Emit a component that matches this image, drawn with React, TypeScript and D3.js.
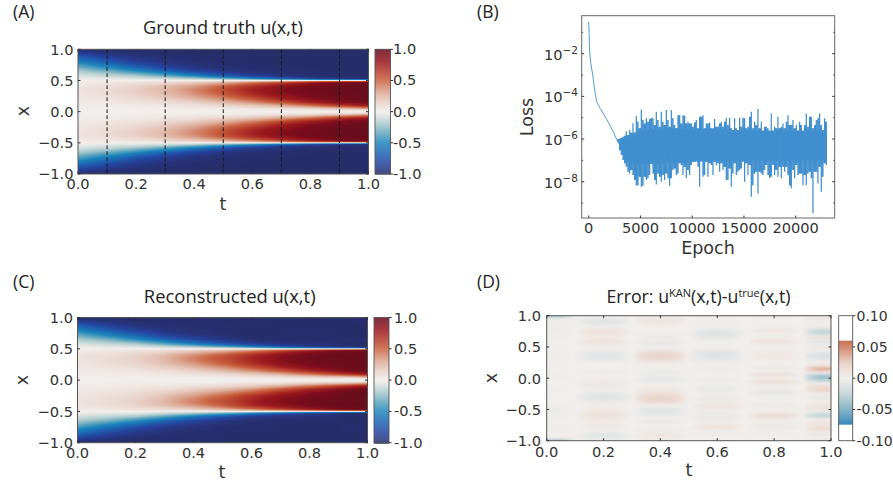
import React from "react";
import * as d3 from "d3";

// ---------- data ----------
const truthTimes = [0, 0.1, 0.2, 0.3, 0.4, 0.5, 0.6, 0.7, 0.8, 0.9, 1.0];
const truthXs = [1, 0.95, 0.9, 0.85, 0.8, 0.75, 0.7, 0.65, 0.6, 0.575, 0.55, 0.525, 0.5, 0.475, 0.45, 0.4, 0.35, 0.3, 0.25, 0.2, 0.15, 0.1, 0.05, 0.025, 0];
const truthRows = [
  [-1, -1, -1, -1, -1, -1, -1, -1, -1, -1, -1],
  [-0.89, -0.96, -0.98, -0.995, -1, -1, -1, -1, -1, -1, -1],
  [-0.77, -0.89, -0.955, -0.985, -0.995, -1, -1, -1, -1, -1, -1],
  [-0.64, -0.81, -0.915, -0.966, -0.99, -0.995, -1, -1, -1, -1, -1],
  [-0.52, -0.71, -0.86, -0.94, -0.975, -0.99, -1, -1, -1, -1, -1],
  [-0.4, -0.58, -0.77, -0.89, -0.957, -0.985, -0.995, -1, -1, -1, -1],
  [-0.29, -0.45, -0.64, -0.81, -0.91, -0.965, -0.985, -0.995, -1, -1, -1],
  [-0.19, -0.3, -0.47, -0.66, -0.82, -0.92, -0.97, -0.99, -0.995, -1, -1],
  [-0.11, -0.18, -0.29, -0.44, -0.63, -0.8, -0.91, -0.965, -0.985, -0.995, -1],
  [-0.077, -0.13, -0.2, -0.33, -0.5, -0.69, -0.84, -0.93, -0.97, -0.99, -0.995],
  [-0.047, -0.08, -0.13, -0.21, -0.33, -0.5, -0.69, -0.84, -0.93, -0.975, -0.99],
  [-0.022, -0.04, -0.06, -0.1, -0.16, -0.26, -0.41, -0.6, -0.77, -0.89, -0.955],
  [0, 0, 0, 0, 0, 0, 0, 0, 0, 0, 0],
  [0.018, 0.03, 0.05, 0.08, 0.13, 0.215, 0.34, 0.51, 0.7, 0.85, 0.94],
  [0.03, 0.05, 0.08, 0.134, 0.22, 0.345, 0.51, 0.7, 0.85, 0.94, 0.97],
  [0.05, 0.08, 0.136, 0.22, 0.345, 0.52, 0.71, 0.855, 0.94, 0.98, 0.99],
  [0.056, 0.09, 0.152, 0.245, 0.39, 0.566, 0.75, 0.885, 0.955, 0.985, 0.995],
  [0.053, 0.087, 0.144, 0.232, 0.37, 0.54, 0.73, 0.87, 0.945, 0.98, 0.99],
  [0.044, 0.072, 0.12, 0.195, 0.315, 0.475, 0.66, 0.82, 0.925, 0.97, 0.99],
  [0.032, 0.053, 0.087, 0.143, 0.234, 0.365, 0.53, 0.72, 0.87, 0.945, 0.98],
  [0.02, 0.033, 0.054, 0.09, 0.147, 0.24, 0.37, 0.55, 0.74, 0.88, 0.95],
  [0.0095, 0.016, 0.026, 0.043, 0.07, 0.115, 0.188, 0.3, 0.46, 0.65, 0.81],
  [0.0025, 0.004, 0.007, 0.011, 0.018, 0.03, 0.05, 0.083, 0.135, 0.22, 0.35],
  [0.0006, 0.001, 0.002, 0.003, 0.004, 0.007, 0.012, 0.02, 0.033, 0.054, 0.09],
  [0, 0, 0, 0, 0, 0, 0, 0, 0, 0, 0],
];

// Error, thousandths, peak of each training window (columns: windows around t=.05,.2,.4,.6,.8,.95)
const errorXs = d3.range(41).map((i) => +(1 - i * 0.05).toFixed(2));
const errorPeaks = [
  [-45, -2, 6, 2, 3, 6],
  [-4, -6, 8, 1, 1, 10],
  [-1, -12, 10, 3, 1, -4],
  [-2, -5, 3, 3, 1, 2],
  [-3, 6, 0, -3, 3, -8],
  [-3, 12, 1, -10, 10, -28],
  [-2, 8, 4, -12, -1, -20],
  [-1, 2, 6, -8, -3, 22],
  [0, 12, -6, -2, 14, -14],
  [1, 8, -7, 1, 5, -5],
  [1, 1, -2, 0, 1, 10],
  [1, -3, 8, -6, 2, 3],
  [2, -9, 20, -11, 6, -10],
  [2, -10, 23, -12, 7, -15],
  [2, -8, 18, -9, 5, -8],
  [1, -2, 4, -2, 0, 3],
  [1, 1, 0, 1, -2, 10],
  [1, -1, -2, 6, -5, 42],
  [0, -3, -5, -4, 3, 15],
  [-1, -2, -3, 1, 16, -35],
  [-1, 2, -6, 3, -2, -40],
  [-1, 4, -8, 4, 17, -20],
  [1, 8, 2, -2, 6, 10],
  [2, 4, 4, -5, 1, 18],
  [2, -2, 8, -7, -6, 20],
  [1, -8, 14, 6, -9, 3],
  [0, -12, 22, -3, 2, -8],
  [0, -8, 24, -8, 1, -4],
  [-1, -2, 10, 5, -3, 6],
  [-2, 2, -4, 12, -4, 10],
  [-4, 4, -9, 6, -2, 12],
  [-4, 10, -10, -4, 6, -12],
  [-2, 12, -6, -6, 20, -30],
  [-1, 8, 2, -5, 6, -4],
  [1, 3, 6, -3, -2, 12],
  [-1, 5, 2, 8, -3, 6],
  [-2, 4, -3, 12, -6, 18],
  [-1, 0, -4, -2, 2, 8],
  [1, -11, 10, -3, -4, -10],
  [2, -8, 5, 1, 1, 4],
  [-45, -2, 2, 2, 2, 5],
];
const errorTimes = [0, 0.05, 0.09, 0.1, 0.12, 0.15, 0.2, 0.25, 0.28, 0.3, 0.32, 0.35, 0.4, 0.45, 0.48, 0.5, 0.52, 0.55, 0.6, 0.65, 0.68, 0.7, 0.72, 0.75, 0.8, 0.85, 0.88, 0.9, 0.92, 0.95, 1.0];
const errorWindow = [0, 0, 0, 0, 1, 1, 1, 1, 1, 1, 2, 2, 2, 2, 2, 2, 3, 3, 3, 3, 3, 3, 4, 4, 4, 4, 4, 4, 5, 5, 5];
const errorEnvelope = [0.8, 0.9, 0.25, 0.05, 0.4, 0.9, 1, 0.9, 0.4, 0.05, 0.45, 0.9, 1, 0.9, 0.4, 0.05, 0.45, 0.9, 1, 0.9, 0.4, 0.05, 0.45, 0.9, 1, 0.9, 0.4, 0.05, 0.6, 1, 1];

const dashTimes = [0.1, 0.3, 0.5, 0.7, 0.9];
const heatXTicks = [0, 0.2, 0.4, 0.6, 0.8, 1.0];
const heatYTicks = [-1, -0.5, 0, 0.5, 1];
const errorCbTicks = [-0.1, -0.05, 0, 0.05, 0.1];

// Loss: clean decay, then the upper and lower edge of the noisy band (log10)
const decayEpochs = [0, 100, 200, 390, 580, 770, 1100, 1740, 2380, 2870];
const decayLog = [-0.5, -1.98, -2.45, -3.0, -3.7, -4.25, -4.56, -5.08, -5.66, -6.2];
const bandStart = 2830;
const bandStep = 161;
const bandHigh = [
  -6.0, -5.97, -5.94, -5.89, -5.84, -5.63, -5.81, -5.58, -5.7, -5.27, -5.69, -4.91, -5.19, -5.5, -4.61, -5.11, -5.27, -5.03, -5.19, -5.06, -5.0, -5.03, -5.34, -4.72, -5.11, -5.42, -4.72, -5.19, -5.34, -4.64, -5.11, -5.42, -4.64, -5.03, -5.34,
  -5.5, -4.88, -4.88, -5.27, -4.88, -4.91, -5.27, -5.19, -5.27, -5.27, -5.42, -5.22, -5.11, -5.5, -4.95, -4.95, -4.88, -5.5, -5.27, -5.27, -5.22, -5.5, -5.5, -5.06, -5.42, -5.42, -5.27, -5.19, -5.42, -5.19, -5.0, -5.34, -5.0, -5.5, -5.58, -5.03, -5.5, -5.58, -5.0, -5.42, -5.0, -5.03, -5.5, -5.42, -4.95, -4.72, -5.5, -5.19, -5.34, -4.59, -5.5,
  -5.19, -5.66, -5.42, -5.42, -5.5, -5.66, -4.8, -5.66, -5.42, -5.5, -4.95, -5.5, -5.42, -5.27, -5.5, -5.19, -4.88, -5.34, -5.34, -5.11, -5.5, -5.34, -5.66, -5.19, -5.34, -5.66, -5.34, -4.8, -5.42, -4.95, -4.95, -5.5, -5.34, -5.11, -5.03, -4.8, -5.34, -5.58, -5.03, -5.19,
];
const bandLow = [
  -6.13, -6.52, -6.75, -6.98, -7.14, -7.3, -7.53, -7.61, -7.45, -7.69, -7.92, -8.19, -8.16, -7.77, -8.23, -8.19, -7.77, -7.92, -7.84, -7.69, -7.06, -7.61, -7.92, -8.13, -7.61, -7.77, -8.0, -7.69, -7.92, -7.61, -7.84, -8.19, -7.84, -7.45, -7.38,
  -7.69, -7.61, -7.14, -7.22, -7.69, -7.3, -7.84, -7.45, -7.69, -7.22, -7.06, -7.06, -6.98, -7.3, -8.23, -6.98, -7.77, -7.69, -7.06, -7.77, -7.14, -7.22, -7.69, -7.06, -7.22, -7.14, -7.53, -7.14, -7.45, -7.3, -7.92, -7.92, -7.38, -8.23, -7.61, -7.14, -7.69, -7.53, -7.45, -7.38, -7.06, -8.0, -7.14, -7.69, -7.22, -8.7, -8.16, -7.61, -7.53, -8.55, -7.53,
  -7.61, -7.69, -7.45, -7.22, -7.69, -7.84, -7.77, -7.22, -7.69, -7.45, -7.77, -7.3, -7.84, -7.3, -7.53, -7.3, -7.69, -8.16, -8.31, -7.45, -7.84, -7.22, -7.69, -7.61, -7.61, -8.16, -7.69, -8.16, -7.61, -7.53, -7.84, -9.48, -7.53, -7.53, -8.08, -7.3, -8.47, -7.77, -7.14, -7.22,
];
// The solid middle of the noisy band (log10)
const coreEpochs = [2870, 3400, 4000, 5000, 8000, 14000, 23000];
const coreHigh = [-6.05, -5.95, -5.85, -5.6, -5.5, -5.6, -5.6];
const coreLow = [-6.2, -6.85, -7.15, -7.2, -7.1, -7.0, -7.0];

const lossXTicks = [0, 5000, 10000, 15000, 20000];
const lossMajorExp = [-2, -4, -6, -8];
const lossMinorExp = [-1, -3, -5, -7, -9];

// Colour stops
const balanceDomain = [-1, -0.85, -0.7, -0.5, -0.35, -0.2, -0.05, 0, 0.15, 0.3, 0.5, 0.65, 0.8, 1];
const balanceColors = ["#252d6b", "#25409a", "#1f5fb0", "#1e86bd", "#5fa5bd", "#a9c9cd", "#e4e6e5", "#f1eeec", "#e8cfc5", "#dca893", "#c8603f", "#b53a2a", "#98161f", "#660a1c"];
const errorDomain = [-0.075, -0.05, -0.025, 0, 0.025, 0.05, 0.06];
const errorColors = ["#2a7fb5", "#7fb0c4", "#c5d5d8", "#f1eeec", "#e8d0c4", "#cf8265", "#c6694a"];

// ---------- helpers ----------
const DJ = "'DejaVu Sans', sans-serif";
const OS = "'Open Sans', sans-serif";
const INK = "#333";
const SPINE = "#555";

const balance = d3.scaleLinear<string>().domain(balanceDomain).range(balanceColors).clamp(true);
const errScale = d3.scaleLinear<string>().domain(errorDomain).range(errorColors);
const errColor = (v: number) => (v > 0.06 || v < -0.075 ? "#ffffff" : errScale(v));
const timeIndex = d3.scaleLinear().domain(truthTimes).range(d3.range(truthTimes.length)).clamp(true);

const truthAt = (x: number, t: number) => {
  const ax = Math.min(1, Math.abs(x));
  let i = 0;
  while (i < truthXs.length - 2 && truthXs[i + 1] >= ax) i++;
  const k = (truthXs[i] - ax) / (truthXs[i] - truthXs[i + 1]);
  const col = timeIndex(t);
  const c0 = Math.min(truthTimes.length - 2, Math.floor(col));
  const f = col - c0;
  const a = truthRows[i][c0] * (1 - f) + truthRows[i][c0 + 1] * f;
  const b = truthRows[i + 1][c0] * (1 - f) + truthRows[i + 1][c0 + 1] * f;
  return a * (1 - k) + b * k;
};
const errorAt = (x: number, t: number) => {
  const rowF = Math.max(0, Math.min(errorXs.length - 1.001, (1 - x) / 0.05));
  const r0 = Math.floor(rowF);
  const k = rowF - r0;
  const n = errorTimes.length;
  let j = 0;
  while (j < n - 2 && errorTimes[j + 1] <= t) j++;
  const f = Math.max(0, Math.min(1, (t - errorTimes[j]) / (errorTimes[j + 1] - errorTimes[j])));
  const val = (ji: number) => ((errorPeaks[r0][errorWindow[ji]] * (1 - k) + errorPeaks[r0 + 1][errorWindow[ji]] * k) * errorEnvelope[ji]) / 1000;
  return val(j) * (1 - f) + val(j + 1) * f;
};

type Rect = { x0: number; x1: number; y0: number; y1: number };
const fmt = (v: number) => (v < 0 ? "\u2212" : "") + Math.abs(v).toFixed(1);
const stopTimes = d3.range(0, 1.0001, 0.02);

function Heat({ id, r, field, color, blur }: { id: string; r: Rect; field: (x: number, t: number) => number; color: (v: number) => string; blur?: number }) {
  const xs = d3.scaleLinear().domain([0, 1]).range([r.x0, r.x1]);
  const ys = d3.scaleLinear().domain([-1, 1]).range([r.y1, r.y0]);
  const rows = d3.range(Math.floor(r.y0) - 3, Math.ceil(r.y1) + 3, 1);
  return (
    <g>
      <defs>
        <clipPath id={id + "c"}><rect x={r.x0} y={r.y0} width={r.x1 - r.x0} height={r.y1 - r.y0} /></clipPath>
        <filter id={id + "b"} x="-5%" y="-5%" width="110%" height="110%"><feGaussianBlur stdDeviation={blur ?? 0.7} /></filter>
        {rows.map((py, i) => {
          const x = Math.max(-1, Math.min(1, ys.invert(py + 0.5)));
          return (
            <linearGradient key={i} id={`${id}g${i}`} gradientUnits="userSpaceOnUse" x1={r.x0} x2={r.x1} y1={0} y2={0}>
              {stopTimes.map((t) => (
                <stop key={t} offset={(xs(t) - r.x0) / (r.x1 - r.x0)} stopColor={color(field(x, t))} />
              ))}
            </linearGradient>
          );
        })}
      </defs>
      <g clipPath={`url(#${id}c)`}>
        <g filter={`url(#${id}b)`}>
          {rows.map((py, i) => (
            <rect key={i} x={Math.floor(r.x0) - 4} y={py} width={Math.ceil(r.x1 - r.x0) + 9} height={1} shapeRendering="crispEdges" fill={`url(#${id}g${i})`} />
          ))}
        </g>
      </g>
    </g>
  );
}

function HeatAxes({ r, xBase, yRight }: { r: Rect; xBase: number; yRight: number }) {
  const xs = d3.scaleLinear().domain([0, 1]).range([r.x0, r.x1]);
  const ys = d3.scaleLinear().domain([-1, 1]).range([r.y1, r.y0]);
  return (
    <g>
      <rect x={r.x0} y={r.y0} width={r.x1 - r.x0} height={r.y1 - r.y0} fill="none" stroke={SPINE} strokeWidth={1} />
      {heatXTicks.map((t) => (
        <g key={t} stroke="#333" strokeWidth={1}>
          <line x1={xs(t)} x2={xs(t)} y1={r.y1} y2={r.y1 - 2.5} />
          <line x1={xs(t)} x2={xs(t)} y1={r.y0} y2={r.y0 + 2.5} />
        </g>
      ))}
      {heatYTicks.map((v) => (
        <g key={v} stroke="#333" strokeWidth={1}>
          <line x1={r.x0} x2={r.x0 + 2.5} y1={ys(v)} y2={ys(v)} />
          <line x1={r.x1} x2={r.x1 - 2.5} y1={ys(v)} y2={ys(v)} />
        </g>
      ))}
      {heatXTicks.map((t) => (
        <text key={t} x={xs(t)} y={xBase} textAnchor="middle" fontFamily={DJ} fontSize={14.6} fill={INK}>{t.toFixed(1)}</text>
      ))}
      {heatYTicks.map((v) => (
        <text key={v} x={yRight} y={ys(v) + 5.3} textAnchor="end" fontFamily={DJ} fontSize={14.6} fill={INK}>{fmt(v)}</text>
      ))}
    </g>
  );
}

function Colorbar({ x0, x1, y0, y1, domain, ticks, color, labels, labelX, fs }: { x0: number; x1: number; y0: number; y1: number; domain: [number, number]; ticks: number[]; color: (v: number) => string; labels: (v: number) => string; labelX: number; fs: number }) {
  const ys = d3.scaleLinear().domain(domain).range([y1, y0]);
  const slices = d3.range(y0, y1, 1);
  return (
    <g>
      {slices.map((py) => (
        <rect key={py} x={x0} y={py} width={x1 - x0} height={1.2} fill={color(ys.invert(py + 0.5))} />
      ))}
      <rect x={x0} y={y0} width={x1 - x0} height={y1 - y0} fill="none" stroke={SPINE} strokeWidth={0.9} />
      {ticks.map((v) => (
        <g key={v}>
          <line x1={x1} x2={x1 + 2.5} y1={ys(v)} y2={ys(v)} stroke="#333" strokeWidth={1} />
          <text x={labelX} y={ys(v) + 5} fontFamily={DJ} fontSize={fs} fill={INK}>{labels(v)}</text>
        </g>
      ))}
    </g>
  );
}

const plainLabel = (digits: number) => (v: number) => (v < 0 ? "-" : "") + Math.abs(v).toFixed(digits);

function LossPanel() {
  const r: Rect = { x0: 581.7, x1: 834.7, y0: 15.7, y1: 218 };
  const xs = d3.scaleLinear().domain([-676, 23768]).range([r.x0, r.x1]);
  const ys = d3.scaleLog().domain([Math.pow(10, -9.7), Math.pow(10, -0.22)]).range([r.y1, r.y0]);
  const py = (e: number) => ys(Math.pow(10, e));
  const line = d3.line<[number, number]>().x((d) => xs(d[0])).y((d) => py(d[1]));
  const decay: [number, number][] = decayEpochs.map((e, i) => [e, decayLog[i]]);
  const core = d3.area<number>().x((e) => xs(e)).y0((_, i) => py(coreLow[i])).y1((_, i) => py(coreHigh[i]));
  const spikes = bandHigh.map((h, i) => {
    const e = bandStart + i * bandStep;
    return `M${xs(e)},${py(h)}V${py(bandLow[i])}`;
  }).join("");
  const inner = bandHigh.slice(0, -1).map((h, i) => {
    const e = bandStart + (i + 0.5) * bandStep;
    return `M${xs(e)},${py(Math.min(h, bandHigh[i + 1]))}V${py(Math.max(bandLow[i], bandLow[i + 1]))}`;
  }).join("");
  return (
    <g>
      <path d={line(decay) ?? ""} fill="none" stroke="#4c97d4" strokeWidth={0.95} />
      <path d={core(coreEpochs) ?? ""} fill="#408fcf" />
      <path d={spikes} fill="none" stroke="#408fcf" strokeWidth={1.25} />
      <path d={inner} fill="none" stroke="#408fcf" strokeWidth={1.25} />
      <rect x={r.x0} y={r.y0} width={r.x1 - r.x0} height={r.y1 - r.y0} fill="none" stroke="#666" strokeWidth={1} />
      {lossXTicks.map((v) => (
        <g key={v}>
          <line x1={xs(v)} x2={xs(v)} y1={r.y1} y2={r.y1 - 2.5} stroke="#333" />
          <text x={xs(v)} y={233} textAnchor="middle" fontFamily={DJ} fontSize={14.6} fill={INK}>{v}</text>
        </g>
      ))}
      {lossMajorExp.map((e) => {
        const y = py(e);
        return (
          <g key={e}>
            <line x1={r.x0} x2={r.x0 + 2.5} y1={y} y2={y} stroke="#333" />
            <line x1={r.x1} x2={r.x1 - 2.5} y1={y} y2={y} stroke="#333" />
            <text x={578} y={y + 6} textAnchor="end" fontFamily={DJ} fontSize={14.6} fill={INK}>
              10<tspan dy={-6} fontSize={10.5}>{"\u2212" + Math.abs(e)}</tspan>
            </text>
          </g>
        );
      })}
      {lossMinorExp.map((e) => {
        const y = py(e);
        return (
          <g key={e} stroke="#333" strokeWidth={0.8}>
            <line x1={r.x0} x2={r.x0 + 1.5} y1={y} y2={y} />
            <line x1={r.x1} x2={r.x1 - 1.5} y1={y} y2={y} />
          </g>
        );
      })}
    </g>
  );
}

const rA: Rect = { x0: 78, x1: 368.5, y0: 49.3, y1: 174 };
const rC: Rect = { x0: 77.5, x1: 367.5, y0: 317.5, y1: 442.7 };
const rD: Rect = { x0: 546.7, x1: 831, y0: 315.7, y1: 440.7 };

export default function App() {
  const xsA = d3.scaleLinear().domain([0, 1]).range([rA.x0, rA.x1]);
  return (
    <svg width={893} height={487} viewBox="0 0 893 487" style={{ position: "absolute", left: 0, top: 0, background: "#fff" }}>
      {/* Panel A */}
      <Heat id="a" r={rA} field={truthAt} color={balance} />
      {dashTimes.map((t) => (
        <line key={t} x1={xsA(t)} x2={xsA(t)} y1={rA.y0} y2={rA.y1} stroke="#1a1a1a" strokeWidth={1} strokeDasharray="3.8 2.2" />
      ))}
      <HeatAxes r={rA} xBase={189} yRight={73.5} />
      <Colorbar x0={375} x1={390.5} y0={49.3} y1={174} domain={[-1, 1]} ticks={[-1, -0.5, 0, 0.5, 1]} color={balance} labels={plainLabel(1)} labelX={393} fs={14.6} />
      {/* Panel C */}
      <Heat id="c" r={rC} field={(x, t) => truthAt(x, t) + errorAt(x, t)} color={balance} />
      <HeatAxes r={rC} xBase={458} yRight={73} />
      <Colorbar x0={374} x1={389} y0={317.5} y1={442.7} domain={[-1, 1]} ticks={[-1, -0.5, 0, 0.5, 1]} color={balance} labels={plainLabel(1)} labelX={394} fs={14.6} />
      {/* Panel D */}
      <Heat id="d" r={rD} field={errorAt} color={errColor} blur={0.8} />
      <HeatAxes r={rD} xBase={456.7} yRight={541} />
      <Colorbar x0={838.7} x1={852.7} y0={315.7} y1={440.7} domain={[-0.1, 0.1]} ticks={errorCbTicks} color={errColor} labels={plainLabel(2)} labelX={856.5} fs={14} />
      {/* Panel B */}
      <LossPanel />

      {/* Titles */}
      <text x={223} y={34} textAnchor="middle" fontFamily={OS} fontSize={18.2} fill="#222">Ground truth u(x,t)</text>
      <text x={229.7} y={302.7} textAnchor="middle" fontFamily={OS} fontSize={18.4} fill="#222">Reconstructed u(x,t)</text>
      <text x={698.5} y={303} textAnchor="middle" fontFamily={OS} fontSize={17.8} fill="#222">
        Error: u<tspan dy={-6} fontSize={11}>KAN</tspan><tspan dy={6}>(x,t)-u</tspan><tspan dy={-6} fontSize={11}>true</tspan><tspan dy={6}>(x,t)</tspan>
      </text>
      {/* Panel labels */}
      <text x={13} y={18} fontFamily={OS} fontSize={17.5} fill="#222">(A)</text>
      <text x={477} y={18} fontFamily={OS} fontSize={17.5} fill="#222">(B)</text>
      <text x={13} y={288} fontFamily={OS} fontSize={17.5} fill="#222">(C)</text>
      <text x={477} y={288} fontFamily={OS} fontSize={17.5} fill="#222">(D)</text>
      {/* Axis labels */}
      <text x={223} y={210} textAnchor="middle" fontFamily={DJ} fontSize={17.5} fill={INK}>t</text>
      <text x={222} y={478} textAnchor="middle" fontFamily={DJ} fontSize={17.5} fill={INK}>t</text>
      <text x={689} y={476} textAnchor="middle" fontFamily={DJ} fontSize={17.5} fill={INK}>t</text>
      <text transform="translate(29,111) rotate(-90)" textAnchor="middle" fontFamily={DJ} fontSize={17.5} fill={INK}>x</text>
      <text transform="translate(28,380) rotate(-90)" textAnchor="middle" fontFamily={DJ} fontSize={17.5} fill={INK}>x</text>
      <text transform="translate(497,378) rotate(-90)" textAnchor="middle" fontFamily={DJ} fontSize={17.5} fill={INK}>x</text>
      <text transform="translate(533,117) rotate(-90)" textAnchor="middle" fontFamily={DJ} fontSize={17.5} fill={INK}>Loss</text>
      <text x={708} y={254} textAnchor="middle" fontFamily={DJ} fontSize={17.5} fill={INK}>Epoch</text>
    </svg>
  );
}
